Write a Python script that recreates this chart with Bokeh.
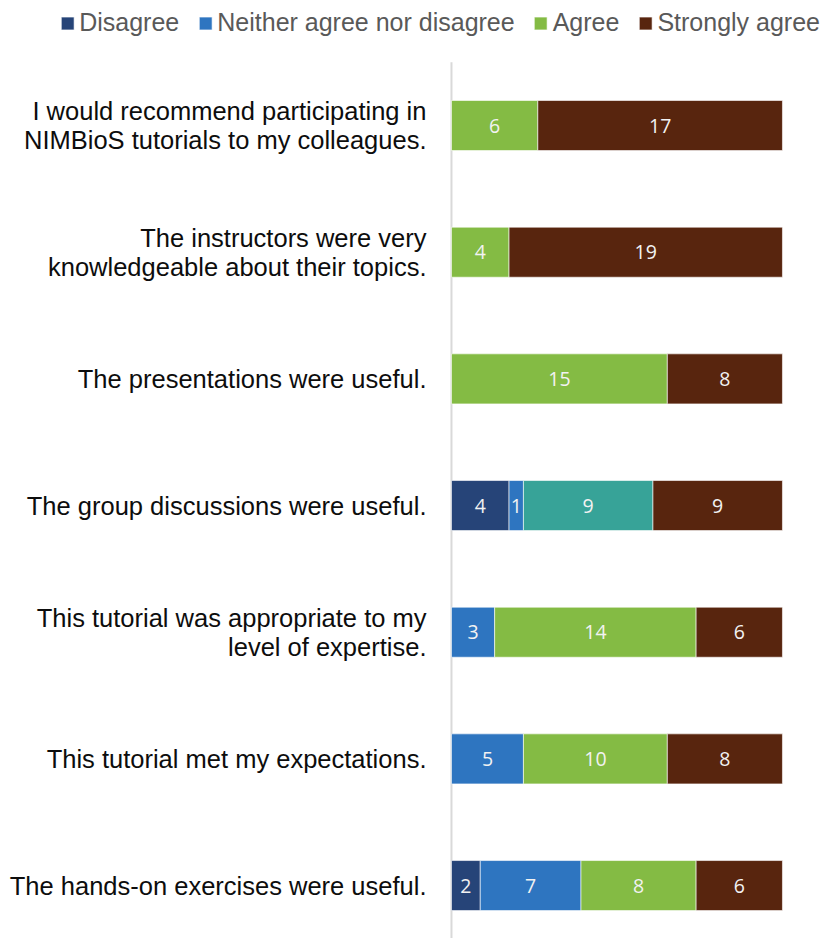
import numpy as np
from bokeh.plotting import figure
from bokeh.models import ColumnDataSource, Range1d, Legend, LegendItem
from bokeh.core.properties import value
from bokeh.embed import file_html
from bokeh.resources import INLINE

categories = [
    "I would recommend participating in\nNIMBioS tutorials to my colleagues.",
    "The instructors were very\nknowledgeable about their topics.",
    "The presentations were useful.",
    "The group discussions were useful.",
    "This tutorial was appropriate to my\nlevel of expertise.",
    "This tutorial met my expectations.",
    "The hands-on exercises were useful.",
]
series_names = ["Disagree", "Neither agree nor disagree", "Agree", "Strongly agree"]
disagree = [0, 0, 0, 4, 0, 0, 2]
neither = [0, 0, 0, 1, 3, 5, 7]
agree = [6, 4, 15, 9, 14, 10, 8]
strongly = [17, 19, 8, 9, 6, 8, 6]

series_colors = ["#264478", "#2e75c0", "#84bb44", "#58250e"]
# the "Agree" segment of the group-discussion row is drawn in teal in the original
agree_row_colors = ["#84bb44", "#84bb44", "#84bb44", "#37a398", "#84bb44", "#84bb44", "#84bb44"]

FONT = "Liberation Sans"
n = len(categories)
ypos = np.arange(n)[::-1].astype(float)  # top row highest

p = figure(width=828, height=938, output_backend="svg", toolbar_location=None,
           x_range=Range1d(-31.34, 26.2), y_range=Range1d(-0.418, n - 1 + 0.987),
           x_axis_type=None, y_axis_type=None, min_border=0)
p.grid.visible = False
p.outline_line_color = None

# vertical category axis line
p.segment(x0=[0], y0=[-0.6], x1=[0], y1=[n - 0.5], line_color="#d9d9d9", line_width=2)

all_series = [disagree, neither, agree, strongly]
left = np.zeros(n)
renderers = []
lab_x, lab_y, lab_t = [], [], []
for k, vals in enumerate(all_series):
    vals = np.array(vals, dtype=float)
    right = left + vals
    mask = vals > 0
    cols = agree_row_colors if k == 2 else [series_colors[k]] * n
    src = ColumnDataSource(dict(
        y=ypos[mask], left=left[mask], right=right[mask],
        color=[c for c, m in zip(cols, mask) if m]))
    r = p.hbar(y="y", left="left", right="right", height=0.395, source=src,
               fill_color="color", line_color="white", line_width=0.6)
    renderers.append(r)
    for i in range(n):
        if vals[i] > 0:
            lab_x.append((left[i] + right[i]) / 2)
            lab_y.append(ypos[i])
            lab_t.append(str(int(vals[i])))
    left = right

p.text(x=lab_x, y=lab_y, text=lab_t, text_align="center", text_baseline="middle",
       text_color="#f2f2f2", text_font_size="19.5px", text_font=value("Open Sans"))

# category labels
p.text(x=[0] * n, y=list(ypos), text=categories, x_offset=-25, text_align="right",
       text_baseline="middle", text_color="#0d0d0d", text_font_size="25.5px",
       text_line_height=1.03, text_font=value(FONT))

legend = Legend(items=[LegendItem(label=nm, renderers=[r]) for nm, r in zip(series_names, renderers)],
                orientation="horizontal", location="top_right",
                label_text_font_size="25px", label_text_color="#595959", label_text_font=FONT,
                glyph_width=16, glyph_height=16, label_standoff=4, spacing=18,
                padding=0, margin=8, border_line_color=None, background_fill_alpha=0)
p.add_layout(legend)

open("out.html", "w").write(file_html(p, INLINE))
